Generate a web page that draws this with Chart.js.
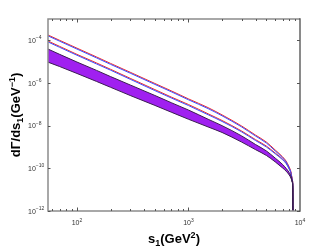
<!DOCTYPE html>
<html>
<head>
<meta charset="utf-8">
<script src="https://cdn.jsdelivr.net/npm/chart.js@4/dist/chart.umd.min.js"></script>
<style>
  html, body { margin: 0; padding: 0; background: #fff; }
  canvas { display: block; }
</style>
</head>
<body>
<canvas id="chart" width="332" height="250"></canvas>
<script>
// data (s1 in GeV^2, dGamma/ds1 in GeV^-1)
const sValues = [55, 70, 100, 150, 200, 300, 500, 700, 1000, 1500, 2000, 3000, 4000, 5000, 6000, 7000, 7500, 8000, 8300, 8550, 8620, 8648];

const upperRed  = [1.78e-4, 1.0e-4, 4.3e-5, 1.66e-5, 8.3e-6, 3.2e-6, 9.5e-7, 4.3e-7, 1.8e-7, 7.0e-8, 3.2e-8, 9.6e-9, 3.6e-9, 1.7e-9, 7.2e-10, 3.4e-10, 2.2e-10, 1.15e-10, 6.8e-11, 2.8e-11, 1.2e-11, 1e-14];
const upperBlue = [1.62e-4, 9.1e-5, 3.9e-5, 1.5e-5, 7.5e-6, 2.9e-6, 8.6e-7, 3.9e-7, 1.63e-7, 6.3e-8, 2.9e-8, 8.7e-9, 3.25e-9, 1.53e-9, 6.5e-10, 3.1e-10, 2.0e-10, 1.05e-10, 6.2e-11, 2.6e-11, 1.15e-11, 1e-14];
const lowerRed  = [9.3e-5, 5.2e-5, 2.2e-5, 8.7e-6, 4.4e-6, 1.66e-6, 4.9e-7, 2.2e-7, 9.8e-8, 3.6e-8, 1.75e-8, 5.6e-9, 2.2e-9, 1.1e-9, 5.2e-10, 2.7e-10, 1.8e-10, 9.8e-11, 6.0e-11, 2.7e-11, 1.2e-11, 1e-14];
const lowerBlue = [8.4e-5, 4.7e-5, 2.0e-5, 7.8e-6, 4.0e-6, 1.5e-6, 4.4e-7, 2.0e-7, 8.8e-8, 3.25e-8, 1.58e-8, 5.1e-9, 2.0e-9, 1.0e-9, 4.8e-10, 2.5e-10, 1.68e-10, 9.2e-11, 5.7e-11, 2.6e-11, 1.15e-11, 1e-14];

const bandTop     = [3.9e-5, 2.2e-5, 9.6e-6, 3.9e-6, 2.0e-6, 8.1e-7, 2.6e-7, 1.2e-7, 5.4e-8, 2.0e-8, 1.0e-8, 3.3e-9, 1.3e-9, 6.5e-10, 3.0e-10, 1.5e-10, 1.0e-10, 6.3e-11, 4.3e-11, 2.3e-11, 1.07e-11, 1e-14];
const bandCentral = [1.9e-5, 1.12e-5, 5.1e-6, 2.1e-6, 1.12e-6, 4.6e-7, 1.5e-7, 7.2e-8, 3.3e-8, 1.3e-8, 6.9e-9, 2.3e-9, 1.0e-9, 5.0e-10, 2.45e-10, 1.23e-10, 8.7e-11, 5.5e-11, 3.9e-11, 2.2e-11, 1.0e-11, 1e-14];
const bandBottom  = [9.5e-6, 5.9e-6, 2.8e-6, 1.18e-6, 6.3e-7, 2.6e-7, 8.9e-8, 4.3e-8, 2.0e-8, 8.7e-9, 4.8e-9, 1.7e-9, 7.5e-10, 4.0e-10, 2.0e-10, 1.03e-10, 7.4e-11, 4.9e-11, 3.5e-11, 2.1e-11, 9.6e-12, 1e-14];

const yTicks = [1e-12, 1e-10, 1e-8, 1e-6, 1e-4];
const yTickExp = ['−12', '−10', '−8', '−6', '−4'];
const xMajorTicks = [100, 1000, 10000];
const xTickExp = ['2', '3', '4'];
const xMinorTicks = [60, 70, 80, 90, 200, 300, 400, 500, 600, 700, 800, 900, 2000, 3000, 4000, 5000, 6000, 7000, 8000, 9000];

const FONT = '"Liberation Sans", Arial, Helvetica, sans-serif';

const pts = arr => sValues.map((s, i) => ({ x: s, y: arr[i] }));

function line(data, color, extra) {
  return Object.assign({
    data: pts(data), borderColor: color, borderWidth: 1, pointRadius: 0,
    fill: false, cubicInterpolationMode: 'monotone'
  }, extra || {});
}

// draws "10" with a raised exponent
function drawPower(ctx, exp, x, y, align) {
  ctx.font = '7px ' + FONT;
  const w1 = ctx.measureText('10').width;
  ctx.font = '5px ' + FONT;
  const w2 = ctx.measureText(exp).width;
  const x0 = align === 'center' ? x - (w1 + w2) / 2 : x;
  ctx.font = '7px ' + FONT;
  ctx.fillText('10', x0, y);
  ctx.font = '5px ' + FONT;
  ctx.fillText(exp, x0 + w1, y - 3.5);
}

// text made of pieces with sub/superscripts, centred on x
function drawRich(ctx, parts, x, y) {
  let total = 0;
  parts.forEach(p => { ctx.font = 'bold ' + p.size + 'px ' + FONT; p.w = ctx.measureText(p.t).width; total += p.w; });
  let cx = x - total / 2;
  parts.forEach(p => {
    ctx.font = 'bold ' + p.size + 'px ' + FONT;
    ctx.fillText(p.t, cx, y + (p.dy || 0));
    cx += p.w;
  });
}

const framePlugin = {
  id: 'frame',
  afterDraw(chart) {
    const { ctx, chartArea: a, scales } = chart;
    const xs = scales.x, ys = scales.y;
    ctx.save();
    ctx.lineCap = 'butt';

    // frame
    ctx.strokeStyle = '#8c8c8c';
    ctx.lineWidth = 1.5;
    ctx.beginPath();
    ctx.moveTo(a.right, a.top); ctx.lineTo(a.left, a.top);
    ctx.lineTo(a.left, a.bottom); ctx.lineTo(a.right, a.bottom);
    ctx.stroke();
    ctx.strokeStyle = '#3c3c3c';
    ctx.lineWidth = 1.2;
    ctx.beginPath();
    ctx.moveTo(a.right, a.top - 0.7); ctx.lineTo(a.right, a.bottom + 0.7);
    ctx.stroke();

    // x ticks, inward on bottom and top
    ctx.strokeStyle = '#555';
    ctx.lineWidth = 1;
    const xt = (v, len) => {
      const px = Math.round(xs.getPixelForValue(v)) + 0.5;
      ctx.beginPath();
      ctx.moveTo(px, a.bottom); ctx.lineTo(px, a.bottom - len);
      ctx.moveTo(px, a.top); ctx.lineTo(px, a.top + len);
      ctx.stroke();
    };
    xMinorTicks.forEach(v => xt(v, 2));
    xMajorTicks.slice(0, 2).forEach(v => xt(v, 3.5));

    // y ticks, inward on left and right
    yTicks.forEach(v => {
      const py = Math.round(ys.getPixelForValue(v)) + 0.5;
      ctx.beginPath();
      ctx.moveTo(a.left, py); ctx.lineTo(a.left + 2.5, py);
      ctx.moveTo(a.right, py); ctx.lineTo(a.right - 3, py);
      ctx.stroke();
    });

    // tick labels
    ctx.fillStyle = '#333';
    ctx.textBaseline = 'alphabetic';
    ctx.textAlign = 'left';
    yTicks.forEach((v, i) => {
      drawPower(ctx, yTickExp[i], 28, ys.getPixelForValue(v) + 2.5, 'left');
    });
    xMajorTicks.forEach((v, i) => {
      drawPower(ctx, xTickExp[i], xs.getPixelForValue(v), a.bottom + 14, 'center');
    });

    // axis titles
    ctx.fillStyle = '#000';
    drawRich(ctx, [
      { t: 's', size: 13 }, { t: '1', size: 9, dy: 3 },
      { t: '(GeV', size: 13 }, { t: '2', size: 9, dy: -5.5 }, { t: ')', size: 13 }
    ], (a.left + a.right) / 2, 243);

    ctx.translate(20, (a.top + a.bottom) / 2);
    ctx.rotate(-Math.PI / 2);
    drawRich(ctx, [
      { t: 'dΓ/ds', size: 13 }, { t: '1', size: 9, dy: 3 },
      { t: '(GeV', size: 13 }, { t: '−1', size: 9, dy: -5.5 }, { t: ')', size: 13 }
    ], 0, 0);
    ctx.restore();
  }
};

new Chart(document.getElementById('chart'), {
  type: 'line',
  data: {
    datasets: [
      line(bandBottom, '#3b1d52'),
      line(bandTop, '#3b1d52', { fill: '-1', backgroundColor: 'rgb(160, 32, 240)' }),
      line(bandCentral, '#111'),
      line(upperBlue, '#3b4bff'),
      line(upperRed, '#ee2a2a'),
      line(lowerBlue, '#3b4bff'),
      line(lowerRed, '#ee2a2a')
    ]
  },
  options: {
    responsive: false,
    animation: false,
    devicePixelRatio: 1,
    layout: { padding: { left: 48, right: 32, top: 19, bottom: 39 } },
    plugins: { legend: { display: false }, tooltip: { enabled: false } },
    scales: {
      x: { type: 'logarithmic', min: 55, max: 10000, display: false },
      y: { type: 'logarithmic', min: 1e-12, max: 1e-3, display: false }
    }
  },
  plugins: [framePlugin]
});
</script>
</body>
</html>
